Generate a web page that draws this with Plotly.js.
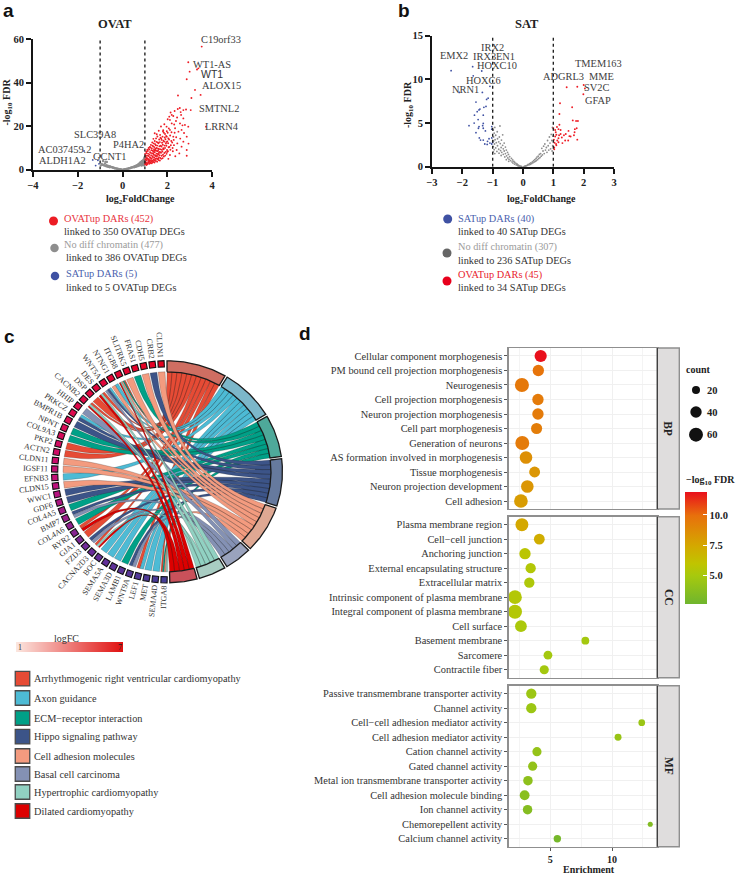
<!DOCTYPE html>
<html><head><meta charset="utf-8">
<script src="https://cdn.plot.ly/plotly-3.0.1.min.js"></script>
<style>html,body{margin:0;padding:0;background:#fff}#chart{width:738px;height:875px}</style>
</head><body><div id="chart"></div>
<script>
// ---------- panel a data ----------
const ovatUpDARs=[[3.54,56.5],[2.94,49.3],[3.39,46.5],[3.33,46],[3.0,45],[2.87,41.5],[3.24,36.6],[3.08,32.9],[3.49,34.3],[2.48,34],[3.73,19.7],
[2.09,24.3],[2.2,25.1],[2.27,24.6],[2.47,27.8],[2.72,27.3],[2.84,27.6],[3.05,27.3],[2.62,25.1],[2.72,23.5],[2.12,22.8],[1.87,20.8],[1.97,19.7],[2.2,21.2],[2.39,22.3],[2.57,21.2],[2.79,20.5],[2.94,19.7],[2.12,18.2],[2.35,19],[2.5,17.4],[2.64,18.2],[2.87,15.1],[1.53,16.2],[1.68,15.9],[1.9,16.3],[2.05,14.3],[2.27,15.1],[1.75,13.6],[2.45,12],[2.64,10.5],[2.87,9],[2.42,9],[2.12,6.7],[2.05,4.9],[2.87,6.3],[2.54,7.4],[2.72,12.8],[2.95,11.9],[2.6,26.4],[2.33,26.9],[2.56,28.3],[2.15,26.2],[2.02,23.1],[2.31,20.7],[2.44,23.9],[2.68,20.3],[2.75,16.8],[2.4,14.8],[2.18,13.1],[2.3,11.2],[2.1,10.4],[1.95,12.6],[1.82,18.1],[1.72,19.8],[1.62,17.8],[1.44,16.7],[2.58,14.2],[2.25,8.4],[2.0,8.1],[2.36,6.1],
[1.01,2.4],[1.03,3.5],[1.02,4.7],[1.04,5.9],[1.01,7.1],[1.06,8.3],[1.07,2.1],[1.09,3.1],[1.06,4.2],[1.08,5.3],[1.1,6.4],[1.07,7.6],[1.11,9.1],[1.13,2.8],[1.15,3.9],[1.12,5.1],[1.16,6.2],[1.14,7.3],[1.13,8.5],[1.17,9.9],[1.19,2.6],[1.21,3.6],[1.18,4.7],[1.22,5.7],[1.2,6.9],[1.23,8],[1.19,9.2],[1.22,10.4],[1.25,3.2],[1.27,4.3],[1.24,5.4],[1.28,6.5],[1.26,7.7],[1.29,8.9],[1.25,10.1],[1.27,11.3],[1.31,2.9],[1.33,4],[1.3,5.1],[1.34,6.1],[1.32,7.4],[1.35,8.6],[1.31,9.7],[1.34,11],[1.33,12.4],[1.37,3.5],[1.39,4.6],[1.36,5.7],[1.4,6.8],[1.38,8.1],[1.41,9.3],[1.37,10.6],[1.4,12],[1.38,14.1],[1.43,3.2],[1.45,4.4],[1.42,5.5],[1.46,6.6],[1.44,7.9],[1.47,9],[1.43,10.3],[1.46,11.6],[1.44,13.1],[1.49,3.9],[1.51,5],[1.48,6.2],[1.52,7.3],[1.5,8.6],[1.53,9.9],[1.49,11.2],[1.52,12.7],[1.5,14.3],[1.55,3.6],[1.57,4.8],[1.54,5.9],[1.58,7.2],[1.56,8.4],[1.59,9.6],[1.55,11],[1.58,12.4],[1.56,15.2],[1.61,4.4],[1.63,5.6],[1.6,6.9],[1.64,8.1],[1.62,9.4],[1.65,10.7],[1.61,12.1],[1.64,13.8],[1.67,4.1],[1.69,5.3],[1.66,6.6],[1.7,8],[1.68,9.3],[1.71,10.9],[1.67,12.6],[1.7,14.6],[1.73,4.9],[1.75,6.3],[1.72,7.7],[1.76,9.1],[1.74,10.6],[1.77,12.3],[1.73,14.2],[1.79,5.2],[1.81,6.8],[1.78,8.3],[1.82,9.8],[1.8,11.4],[1.83,13.2],[1.79,15.1],[1.81,17.5],[1.85,6],[1.87,7.6],[1.84,9.3],[1.88,11],[1.86,12.8],[1.89,14.7],[1.85,16.9],[1.91,6.4],[1.93,8.1],[1.9,9.9],[1.94,11.9],[1.92,13.9],[1.95,15.4],[1.97,7.2],[1.99,9],[1.96,10.9],[2,12.9],[1.98,15.1],[1.98,17.6],[2.03,8.4],[2.06,10.2],[2.04,12.1],[2.08,13.8],[2.02,16.9],[2.07,18.9],[2.14,9.1],[2.16,11.2],[2.13,15.6],[2.19,17.1],[2.22,12.4],[2.24,9.9],[2.29,13.6],[2.33,16.9],[1.02,3],[1.05,2.7],[1.1,2.4],[1.04,6.5],[1.09,4.8],[1.15,4.5],[1.17,3.3],[1.23,2.9],[1.21,4.2],[1.28,3.7],[1.29,5],[1.35,3.4],[1.37,7.3],[1.41,4],[1.42,8.6],[1.47,5],[1.48,9.6],[1.54,6.5],[1.59,8.8],[1.6,5],[1.63,7.6]];
const ovatNoDiff=[[0.04,0.02],[0.08,0.05],[0.11,0.1],[0.14,0.18],[0.17,0.22],[0.2,0.3],[0.23,0.38],[0.26,0.42],[0.29,0.55],[0.32,0.62],[0.35,0.72],[0.38,0.85],[0.41,0.9],[0.44,1.05],[0.47,1.1],[0.5,1.3],[0.52,1.05],[0.55,1.5],[0.57,1.2],[0.6,1.75],[0.62,1.35],[0.65,2],[0.67,1.55],[0.7,2.3],[0.72,1.7],[0.74,2.7],[0.76,1.9],[0.78,3],[0.8,2.2],[0.81,3.4],[0.83,2.5],[0.85,1.8],[0.86,3.8],[0.88,2.7],[0.89,2.1],[0.9,4.1],[0.91,3.2],[0.93,2.3],[0.94,4.5],[0.95,3.5],[0.96,2.6],[0.97,5],[0.98,3.9],[0.99,2.9],[0.99,5.6],[0.96,1.9],[0.92,3.6],[0.87,3.3],[0.79,2.5],[0.69,2.1],
[-0.04,0.03],[-0.08,0.06],[-0.11,0.12],[-0.14,0.16],[-0.18,0.24],[-0.21,0.3],[-0.24,0.38],[-0.27,0.44],[-0.31,0.52],[-0.34,0.6],[-0.37,0.72],[-0.4,0.8],[-0.43,0.9],[-0.46,1],[-0.49,1.1],[-0.52,1.2],[-0.55,1.35],[-0.57,1],[-0.6,1.5],[-0.63,1.2],[-0.66,1.7],[-0.69,1.4],[-0.72,2],[-0.75,1.6],[-0.78,2.8],[-0.81,1.8],[-0.84,2.1],[-0.87,3.9],[-0.9,2.2],[-0.93,2.5],[-0.96,1.9],[-0.7,3.5],[-0.76,3.6]];
const satUpDARsInOvat=[[-1.72,8.5],[-1.33,4.4],[-1.2,1.8],[-1.1,4.2],[-1.05,2.6]];
// ---------- panel b data ----------
const satUpDARs=[[-2.37,11],[-1.66,11.45],[-1.36,10.96],[-1.64,10.4],[-2.1,8.5],[-1.34,8.5],[-1.09,9.2],[-1.2,7.7],[-1.55,7.4],[-1.22,6.9],[-1.29,6.8],[-1.42,6.6],[-1.51,6.3],[-1.6,5.9],[-1.31,5.9],[-1.48,5.4],[-1.61,5],[-1.78,4.7],[-1.31,4.95],[-1.33,4.7],[-1.03,4.6],[-1.45,4.6],[-1.31,4.4],[-1.03,4.3],[-1.44,3.3],[-1.4,3.05],[-1.31,3.05],[-1.03,3.3],[-1,2.8],[-1.26,2.6],[-1.09,2.7],[-1.03,2.6],[-1.17,2.9],[-1.47,4.4],[-1.15,7.85],[-1.45,6.5],[-1.12,3.2],[-1.24,4.1],[-1.18,2.55],[-1.55,3.9]];
const ovatUpDARsInSat=[[1.44,9.09],[1.79,9.16],[2,9.35],[2.04,8.97],[1.99,8.3],[1.22,7.26],[1.62,6.8],[1.2,6.04],[1.64,5.3],[1.75,5.24],[1.81,5.24],[1.2,4.8],[1,4.4],[1.06,4.2],[1.17,4.3],[1.24,4.2],[1.5,4.1],[1.71,4.3],[1.77,4.4],[1.1,3.65],[1.24,3.75],[1.41,3.75],[1.57,3.45],[1.53,3.5],[1.06,3.45],[1.17,3.25],[1.28,3.35],[1.39,3],[1.79,3.1],[1.09,2.6],[1.17,2.8],[1.03,2.2],[1.03,2],[1.1,2.45],[1.19,3.6],[1.08,3.95],[1.13,3],[1.49,3],[1.7,3.95],[1.02,3.1],[1.35,3.6],[1.12,4.55],[1.04,2.75],[1.68,3.6],[1.3,2.7]];
const satNoDiff=[[-0.76,4.66],[-0.93,4.5],[-0.98,4.2],[-0.85,4.0],[-0.95,3.85],[-0.67,3.65],[-0.9,3.6],[-0.78,3.4],[-0.97,3.4],[-0.84,3.2],[-0.92,3.1],[-0.71,3.05],[-0.97,2.95],[-0.8,2.85],[-0.88,2.75],[-0.62,2.7],[-0.75,2.65],[-0.94,2.6],[-0.67,2.45],[-0.84,2.4],[-0.98,2.3],[-0.58,2.25],[-0.72,2.2],[-0.9,2.15],[-0.65,2.05],[-0.8,2],[-0.95,1.95],[-0.55,1.9],[-0.74,1.85],[-0.62,1.8],[-0.86,1.75],[-0.98,1.7],[-0.51,1.65],[-0.7,1.65],[-0.79,1.55],[-0.58,1.5],[-0.93,1.5],[-0.65,1.42],[-0.48,1.4],[-0.54,1.25],[-0.72,1.28],[-0.44,1.15],[-0.6,1.12],[-0.5,1],[-0.38,0.95],[-0.46,0.85],[-0.55,0.8],[-0.34,0.78],[-0.41,0.7],[-0.3,0.62],[-0.47,0.62],[-0.36,0.55],[-0.27,0.5],[-0.33,0.42],[-0.23,0.38],[-0.28,0.3],[-0.19,0.28],[-0.22,0.2],[-0.15,0.18],[-0.17,0.12],[-0.11,0.1],[-0.13,0.06],[-0.07,0.05],[-0.04,0.02],
[0.03,0.02],[0.06,0.05],[0.09,0.08],[0.12,0.12],[0.15,0.18],[0.17,0.26],[0.2,0.22],[0.22,0.34],[0.25,0.28],[0.26,0.44],[0.29,0.38],[0.31,0.56],[0.33,0.46],[0.35,0.7],[0.37,0.55],[0.39,0.82],[0.41,0.62],[0.43,0.95],[0.44,0.7],[0.46,1.1],[0.48,0.8],[0.5,1.2],[0.52,0.95],[0.54,1.4],[0.56,1.05],[0.58,1.5],[0.6,1.2],[0.62,2.1],[0.64,1.35],[0.66,1.8],[0.68,2.35],[0.7,1.5],[0.72,2.6],[0.74,1.9],[0.77,2.2],[0.79,1.65],[0.81,3],[0.83,2.4],[0.85,1.9],[0.87,3.4],[0.89,2.7],[0.91,2.05],[0.93,3.7],[0.95,3],[0.97,4.5],[0.98,2.4],[0.99,3.5],[0.96,1.8]];
// ---------- panel c data ----------
const geneNames=["CLDN1","CRB2","CDH5","FRAS1","SLITRK5","ITGB8","NTNG1","WNT5A","DES","DSP","CACNB2","HHIP","PRKCZ","BMPR1B","NPNT","COL9A3","PKP2","ACTN2","CLDN11","IGSF11","EFNB3","CLDN15","WWC1","GDF6","COL4A5","BMP7","COL4A6","RYR2","GJA1","FZD3","CACNA2D3","BOC","SEMA5A","SEMA3D","LAMB1","WNT9A","LEF1","MET","SEMA4D","ITGA8"];
const geneLogFC=[7,6.9,6.85,6.8,6.7,6.65,6.6,6.5,6.45,6.4,6.3,6.2,6.15,6.05,5.95,5.85,5.7,5.6,5.45,5.3,5.2,5.05,4.95,4.8,4.65,4.55,4.4,4.25,4.1,3.95,3.85,3.7,3.6,3.5,3.4,3.25,3.15,3.05,2.95,2.8];
const pathwayNames=["Arrhythmogenic right ventricular cardiomyopathy","Axon guidance","ECM\u2212receptor interaction","Hippo signaling pathway","Cell adhesion molecules","Basal cell carcinoma","Hypertrophic cardiomyopathy","Dilated cardiomyopathy"];
const pathwayGenes=[
 ["ITGB8","DES","DSP","CACNB2","PKP2","ACTN2","RYR2","GJA1","CACNA2D3","LEF1","ITGA8"],
 ["NTNG1","WNT5A","PRKCZ","EFNB3","BOC","SEMA5A","SEMA3D","LEF1","MET","SEMA4D"],
 ["FRAS1","ITGB8","NPNT","COL9A3","COL4A5","COL4A6","LAMB1","ITGA8"],
 ["CRB2","WNT5A","PRKCZ","BMPR1B","WWC1","GDF6","BMP7","FZD3","WNT9A"],
 ["CLDN1","CDH5","SLITRK5","ITGB8","NTNG1","CLDN11","IGSF11","CLDN15","ITGA8"],
 ["WNT5A","HHIP","BMP7","FZD3","WNT9A"],
 ["ITGB8","DES","CACNB2","CACNA2D3","ITGA8"],
 ["ITGB8","DES","CACNB2","RYR2","CACNA2D3"]];
const ribbonColors=["#E64B35","#4DBBD5","#00A087","#3C5488","#F39B7F","#8491B4","#91D1C2","#DC0000"];
const ringColors=["#cf6e62","#7cb7ca","#4ea99a","#667a9e","#dfa893","#9aa3bd","#a9cdc3","#c9515a"];
const logFCScale=[1,2,3,4,5,6,7];
// ---------- panel d data ----------
const bpTerms=["Cellular component morphogenesis","PM bound cell projection morphogenesis","Neurogenesis","Cell projection morphogenesis","Neuron projection morphogenesis","Cell part morphogenesis","Generation of neurons","AS formation involved in morphogenesis","Tissue morphogenesis","Neuron projection development","Cell adhesion"];
const bpEnrich=[4.22,4.03,2.7,4,4,3.89,2.73,3.03,3.73,3.14,2.62];
const bpCount=[46,40,61,40,40,38,60,49,37,49,58];
const bpFDR=[11.9,9.8,9.6,9.5,9.5,9.4,9.5,8.6,8.3,8.3,8];
const ccTerms=["Plasma membrane region","Cell\u2212cell junction","Anchoring junction","External encapsulating structure","Extracellular matrix","Intrinsic component of plasma membrane","Integral component of plasma membrane","Cell surface","Basement membrane","Sarcomere","Contractile fiber"];
const ccEnrich=[2.7,4.11,2.95,3.41,3.3,2.14,2.14,2.62,7.84,4.81,4.51];
const ccCount=[52,36,40,33,33,58,61,43,19,24,26];
const ccFDR=[7.5,7.2,5.8,5.5,5.3,5.5,5.5,5.2,4.9,4.9,4.9];
const mfTerms=["Passive transmembrane transporter activity","Channel activity","Cell\u2212cell adhesion mediator activity","Cell adhesion mediator activity","Cation channel activity","Gated channel activity","Metal ion transmembrane transporter activity","Cell adhesion molecule binding","Ion channel activity","Chemorepellent activity","Calcium channel activity"];
const mfEnrich=[3.46,3.46,12.41,10.49,3.92,3.57,3.19,2.92,3.16,13.1,5.57];
const mfCount=[33,33,14,15,26,26,28,30,28,8,17];
const mfFDR=[4.6,4.6,4.5,4.4,4.3,4.2,4,3.8,3.6,3.5,3];
const countLegend=[20,40,60];
const fdrColorscale=[[0,"#6fb52e"],[0.25,"#a6c90e"],[0.36,"#c0c400"],[0.52,"#d4a800"],[0.79,"#e8700c"],[1,"#e9101c"]];
const geneColorscale=[[0,"#3c4395"],[0.3,"#6a2c9a"],[0.58,"#c0107c"],[0.8,"#dc0a50"],[1,"#e6001e"]];

// ---------- helpers ----------
const W=738,H=875,SERIF='"Liberation Serif","Times New Roman",serif';
const fx=p=>p/W, fy=p=>1-p/H;
const dom=(a,b)=>[a/W,b/W], domY=(top,bot)=>[1-bot/H,1-top/H];
const annotations=[],shapes=[],traces=[];
function note(x,y,text,o={}){annotations.push(Object.assign({xref:'paper',yref:'paper',x:fx(x),y:fy(y),text,showarrow:false,xanchor:'center',yanchor:'middle',borderpad:0,font:{family:SERIF,size:10.4,color:'#404040'}},o));}
const left=(size,color)=>({xanchor:'left',font:{family:SERIF,size,color}});
const pick=(arr,i)=>arr.map(p=>p[i]);

// ---------- volcano axes ----------
function volcanoAxis(domain,range,dtick,anchor){return {domain,range,dtick,anchor,tickmode:'linear',showline:true,linecolor:'#151515',linewidth:2,ticks:'outside',ticklen:5,tickwidth:2,tickcolor:'#151515',showgrid:false,zeroline:false,fixedrange:true,tickfont:{family:SERIF,size:10.5,color:'#222',weight:'bold'}};}
function scatter(points,xa,ya,color,size){traces.push({type:'scatter',mode:'markers',x:pick(points,0),y:pick(points,1),xaxis:xa,yaxis:ya,marker:{color,size,opacity:1,line:{width:0}},hoverinfo:'skip',showlegend:false,cliponaxis:false});}
function cutoff(v,top,xa,ya){traces.push({type:'scatter',mode:'lines',x:[v,v],y:[0,top],xaxis:xa,yaxis:ya,line:{color:'#222',width:1.4,dash:'dot'},hoverinfo:'skip',showlegend:false});}
scatter(ovatNoDiff,'x','y','#8e8e8e',2.4);
scatter(ovatUpDARs,'x','y','#ee1c25',1.9);
scatter(satUpDARsInOvat,'x','y','#3f51a3',1.8);
cutoff(-1,60,'x','y');cutoff(1,60,'x','y');
scatter(satNoDiff,'x2','y2','#8e8e8e',1.8);
scatter(satUpDARs,'x2','y2','#3f51a3',1.8);
scatter(ovatUpDARsInSat,'x2','y2','#ee1c25',1.9);
cutoff(-1,15,'x2','y2');cutoff(1,15,'x2','y2');

// ---------- chord ----------
const CX=167,CY=471.8,SX=1.04;
const polar=(r,deg)=>{const t=deg*Math.PI/180;return [r*Math.sin(t),r*Math.cos(t)];};
const rIn=100,rRingOut=111,rSq=108,rLab=114;
const geneStart=357,geneStep=4.5,geneWidth=3.8;
const geneTheta=i=>geneStart-i*geneStep;
const termSlots={};   // gene -> list of terms
pathwayGenes.forEach((g,t)=>g.forEach(n=>{(termSlots[n]=termSlots[n]||[]).push(t);}));
const total=pathwayGenes.reduce((s,g)=>s+g.length,0);
const gap=1.2,span=178.6-gap*(pathwayGenes.length-1),unit=span/total;
let cursor=0;
function arcPts(r,a,b){const n=Math.max(2,Math.ceil(Math.abs(b-a)/0.6));const o=[];for(let i=0;i<=n;i++)o.push(polar(r,a+(b-a)*i/n));return o;}
function bez(p0,p1){const o=[];for(let i=0;i<=24;i++){const t=i/24,k=(1-t)*(1-t),m=t*t;o.push([k*p0[0]+m*p1[0],k*p0[1]+m*p1[1]]);}return o;}
const ringTraces=[];
pathwayGenes.forEach((genes,t)=>{
  const start=cursor,end=cursor+genes.length*unit;
  const xs=[],ys=[];
  const ordered=genes.slice().sort((a,b)=>geneNames.indexOf(a)-geneNames.indexOf(b));
  ordered.forEach((name,k)=>{
    const gi=geneNames.indexOf(name),slots=termSlots[name],sIdx=slots.indexOf(t);
    const c=geneTheta(gi),w=geneWidth/slots.length;
    const aHi=c+geneWidth/2-sIdx*w,aLo=aHi-w;
    const tLo=start+k*unit,tHi=tLo+unit;
    const pts=[].concat(bez(polar(rIn,aHi),polar(rIn,tLo)),arcPts(rIn,tLo,tHi),bez(polar(rIn,tHi),polar(rIn,aLo)),arcPts(rIn,aLo,aHi));
    pts.forEach(p=>{xs.push(p[0]);ys.push(p[1]);});
    xs.push(null);ys.push(null);
  });
  traces.push({type:'scatter',mode:'lines',x:xs,y:ys,xaxis:'x3',yaxis:'y3',fill:'toself',fillcolor:ribbonColors[t],line:{color:'rgba(30,30,30,0.55)',width:0.4},hoverinfo:'skip',showlegend:false});
  const ring=[].concat(arcPts(rIn,start,end),arcPts(rRingOut,end,start));ring.push(ring[0]);
  ringTraces.push({type:'scatter',mode:'lines',x:pick(ring,0),y:pick(ring,1),xaxis:'x3',yaxis:'y3',fill:'toself',fillcolor:ringColors[t],line:{color:'#1a1a1a',width:1.3},hoverinfo:'skip',showlegend:false});
  cursor=end+gap;
});
ringTraces.forEach(r=>traces.push(r));
traces.push({type:'scatter',mode:'markers',xaxis:'x3',yaxis:'y3',hoverinfo:'skip',showlegend:false,
  x:geneNames.map((g,i)=>polar(rSq,geneTheta(i))[0]),y:geneNames.map((g,i)=>polar(rSq,geneTheta(i))[1]),
  marker:{symbol:'square',size:6.2,opacity:1,angle:geneNames.map((g,i)=>geneTheta(i)),color:geneLogFC,cmin:2.5,cmax:7,colorscale:geneColorscale,showscale:false,line:{color:'#111',width:1.1}}});
const ctx=document.createElement('canvas').getContext('2d');ctx.font='8px "Liberation Serif"';
geneNames.forEach((g,i)=>{
  const th=geneTheta(i),w=ctx.measureText(g).width;
  const p=polar(rLab+w/2,th);
  let ang=90+th;while(ang>180)ang-=360;
  annotations.push({xref:'x3',yref:'y3',x:p[0],y:p[1],text:g,textangle:ang,showarrow:false,xanchor:'center',yanchor:'middle',borderpad:0,font:{family:SERIF,size:8,color:'#333'}});
});
// logFC key
traces.push({type:'heatmap',x:logFCScale,y:[0],z:[logFCScale],xaxis:'x7',yaxis:'y7',zsmooth:'best',colorscale:[[0,'#fbe6df'],[1,'#e00f0f']],showscale:false,hoverinfo:'skip',zmin:1,zmax:7});
note(66.5,638,'logFC',{font:{family:SERIF,size:10,color:'#333'}});
note(19.5,647.5,String(logFCScale[0]),{font:{family:SERIF,size:8,color:'#333'}});
note(119.5,647.5,String(logFCScale[6]),{font:{family:SERIF,size:8,color:'#222'}});

// ---------- overlay legends ----------
const legY=[678.7,698,718,736.7,756,774,792,811];
traces.push({type:'scatter',mode:'markers',xaxis:'x8',yaxis:'y8',x:legY.map(()=>22.5),y:legY,marker:{symbol:'square',size:14.5,opacity:1,color:ribbonColors,line:{color:'#4a4a4a',width:1.3}},hoverinfo:'skip',showlegend:false});
pathwayNames.forEach((n,i)=>note(33,legY[i],n,left(10.3,'#333')));
const dots=[[53.5,221,'#ec1c24',9],[54.5,248,'#8e8e8e',8.5],[55,276,'#3f51a3',8.5],[447.7,219,'#3f51a3',9],[447,253,'#666666',9],[447,281,'#e8001c',9]];
traces.push({type:'scatter',mode:'markers',xaxis:'x8',yaxis:'y8',x:pick(dots,0),y:pick(dots,1),marker:{size:pick(dots,3),opacity:1,color:pick(dots,2),line:{width:0}},hoverinfo:'skip',showlegend:false});
const SZ=10.3;
note(63,218.5,'OVATup DARs (452)',left(SZ,'#e8333c'));
note(63,231,'linked to 350 OVATup DEGs',left(SZ,'#333'));
note(63,245,'No diff chromatin (477)',left(SZ,'#9b9b9b'));
note(64.5,257,'linked to 386 OVATup DEGs',left(SZ,'#333'));
note(64.5,274,'SATup DARs (5)',left(SZ,'#4a5fae'));
note(64.5,287,'linked to 5 OVATup DEGs',left(SZ,'#333'));
note(456.7,219,'SATup DARs (40)',left(SZ,'#4a5fae'));
note(456.7,231,'linked to 40 SATup DEGs',left(SZ,'#333'));
note(456.7,247,'No diff chromatin (307)',left(SZ,'#9b9b9b'));
note(456.7,260,'linked to 236 SATup DEGs',left(SZ,'#333'));
note(456.7,275,'OVATup DARs (45)',left(SZ,'#e8222c'));
note(456.7,287,'linked to 34 SATup DEGs',left(SZ,'#333'));
// volcano labels
[['C19orf33',221,40],['WT1-AS',212,64],['ALOX15',221,85],['SMTNL2',219,108],['LRRN4',222,127],['SLC39A8',94.5,135],['AC037459.2',64,149.5],['ALDH1A2',62,161],['P4HA2',128,144],['GCNT1',109,156],
 ['IRX2',492.7,47],['EMX2',454,55.5],['IRX3',484,56],['EN1',505,56],['HOXC10',496.7,65],['HOXC6',483.7,80.5],['NRN1',465,89],['TMEM163',598,63.5],['MME',601,76],['ADGRL3',563,76],['SV2C',596,88],['GFAP',597.7,100]].forEach(l=>note(l[1],l[2],l[0]));
note(212,74,'WT1',{font:{family:'"Liberation Sans",Arial,sans-serif',size:10.5,color:'#333'}});
const bold=(s,c)=>({font:{family:SERIF,size:s,color:c||'#222',weight:'bold'}});
note(115,24,'OVAT',bold(12.5));note(527,24,'SAT',bold(12.5));
note(140,200,'log<sub>2</sub>FoldChange',bold(10));note(541,200,'log<sub>2</sub>FoldChange',bold(10));
note(7.5,102,'-log<sub>10</sub> FDR',Object.assign({textangle:-90},bold(10)));
note(408,105,'-log<sub>10</sub> FDR',Object.assign({textangle:-90},bold(10)));
const letter=()=>({font:{family:'"Liberation Sans",Arial,sans-serif',size:19,color:'#111',weight:'bold'}});
note(8,11,'a',letter());note(403.5,11,'b',letter());note(9.5,336,'c',letter());note(305,334,'d',letter());

// ---------- dot panels ----------
const dRef=0.62;
function panelAxis(top,bot,anchor,terms){return {domain:domY(top,bot),anchor,type:'category',categoryorder:'array',categoryarray:terms,range:[terms.length-0.45,-0.55],tickmode:'array',tickvals:terms,ticktext:terms,showline:true,mirror:true,linecolor:'#8f8f8f',linewidth:1.4,ticks:'outside',ticklen:3,tickwidth:0.9,tickcolor:'#444',showgrid:true,gridcolor:'#f0f0f0',gridwidth:1,zeroline:false,fixedrange:true,tickfont:{family:SERIF,size:10.4,color:'#333'}};}
function enrichAxis(anchor,labels){return {domain:dom(508.7,657.3),anchor,range:[1.63,13.67],tickmode:'array',tickvals:[5,10],ticktext:['5','10'],ticks:labels?'outside':'',ticklen:3,tickwidth:0.9,tickcolor:'#444',showticklabels:labels,showline:true,mirror:true,linecolor:'#8f8f8f',linewidth:1.4,showgrid:true,gridcolor:'#f0f0f0',gridwidth:1,zeroline:false,fixedrange:true,minor:{tickvals:[2.5,7.5,12.5],showgrid:true,gridcolor:'#f4f4f4',gridwidth:1,ticks:''},tickfont:{family:SERIF,size:10,color:'#222',weight:'bold'}};}
function dots3(terms,en,cnt,fdr,xa,ya,showscale){traces.push({type:'scatter',mode:'markers',x:en,y:terms,xaxis:xa,yaxis:ya,hoverinfo:'skip',showlegend:false,cliponaxis:false,
  marker:{size:cnt,sizemode:'area',sizeref:dRef,opacity:1,color:fdr,cmin:2.7,cmax:11.9,colorscale:fdrColorscale,showscale,line:{width:0},
   colorbar:{x:fx(685),xanchor:'left',xpad:0,y:fy(491.7),yanchor:'top',ypad:0,lenmode:'pixels',len:112.3,thicknessmode:'pixels',thickness:22,outlinewidth:0,ticks:'inside',ticklen:4,tickwidth:1,tickcolor:'#fff',tickmode:'array',tickvals:[5,7.5,10],ticktext:['5.0','7.5','10.0'],tickfont:{family:SERIF,size:10.5,color:'#222',weight:'bold'}}}});}
dots3(bpTerms,bpEnrich,bpCount,bpFDR,'x4','y4',true);
dots3(ccTerms,ccEnrich,ccCount,ccFDR,'x5','y5',false);
dots3(mfTerms,mfEnrich,mfCount,mfFDR,'x6','y6',false);
[['BP',348,509],['CC',516.7,677.7],['MF',685.7,846.7]].forEach(s=>{
  shapes.push({type:'rect',xref:'paper',yref:'paper',x0:fx(657.3),x1:fx(679.3),y0:fy(s[1]),y1:fy(s[2]),fillcolor:'#dfdddd',line:{color:'#8f8f8f',width:1.4},layer:'above'});
  shapes.push({type:'line',xref:'paper',yref:'paper',x0:fx(657.3),x1:fx(657.3),y0:fy(s[1]),y1:fy(s[2]),line:{color:'#333',width:1.1},layer:'above'});
  note(668.3,(s[1]+s[2])/2,s[0],Object.assign({textangle:90},bold(11.5,'#222')));
});
note(589,869,'Enrichment',bold(10));
note(685,369,'count',left(10,'#222'));annotations[annotations.length-1].font.weight='bold';
const cntY=[390,412,434.7];
traces.push({type:'scatter',mode:'markers',xaxis:'x8',yaxis:'y8',x:cntY.map(()=>696),y:cntY,marker:{size:countLegend,sizemode:'area',sizeref:dRef,opacity:1,color:'#111',line:{width:0}},hoverinfo:'skip',showlegend:false});
countLegend.forEach((c,i)=>{note(706,cntY[i],String(c),left(10.5,'#222'));annotations[annotations.length-1].font.weight='bold';});
note(685,480,'\u2212log<sub>10</sub> FDR',left(10,'#222'));annotations[annotations.length-1].font.weight='bold';

const hidden={showgrid:false,zeroline:false,showticklabels:false,ticks:'',showline:false,fixedrange:true};
const layout={width:W,height:H,autosize:false,margin:{l:0,r:0,t:0,b:0},paper_bgcolor:'#fff',plot_bgcolor:'rgba(0,0,0,0)',showlegend:false,font:{family:SERIF},annotations,shapes,
 xaxis:volcanoAxis(dom(33,212),[-4,4],2,'y'),
 yaxis:volcanoAxis(domY(39,169.5),[0,60],20,'x'),
 xaxis2:volcanoAxis(dom(432,614),[-3,3],1,'y2'),
 yaxis2:volcanoAxis(domY(35.7,166.7),[0,15],5,'x2'),
 xaxis3:Object.assign({domain:dom(0,300),range:[(0-CX)/SX,(300-CX)/SX],anchor:'y3'},hidden),
 yaxis3:Object.assign({domain:domY(330,630),range:[CY-630,CY-330],anchor:'x3'},hidden),
 xaxis4:enrichAxis('y4',false),yaxis4:panelAxis(348,509,'x4',bpTerms),
 xaxis5:enrichAxis('y5',false),yaxis5:panelAxis(516.7,677.7,'x5',ccTerms),
 xaxis6:enrichAxis('y6',true),yaxis6:panelAxis(685.7,846.7,'x6',mfTerms),
 xaxis7:Object.assign({domain:dom(16,123),range:[1,7],anchor:'y7'},hidden),
 yaxis7:Object.assign({domain:domY(642,652),range:[-0.5,0.5],anchor:'x7'},hidden),
 xaxis8:Object.assign({domain:[0,1],range:[0,W],anchor:'y8'},hidden),
 yaxis8:Object.assign({domain:[0,1],range:[H,0],anchor:'x8'},hidden)
};
Plotly.newPlot('chart',traces,layout,{displayModeBar:false,staticPlot:true});
</script></body></html>
